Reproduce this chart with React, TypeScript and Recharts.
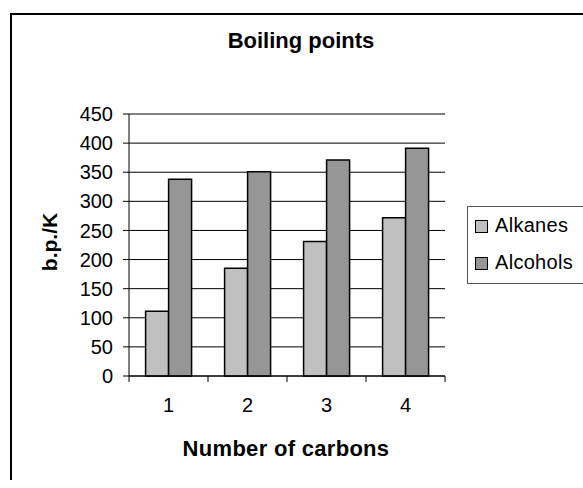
import React from 'react';
import { BarChart, Bar, XAxis, YAxis, CartesianGrid, Legend, ReferenceLine } from 'recharts';

const carbons = ['1', '2', '3', '4'];
const alkanes = [111, 185, 231, 272];
const alcohols = [338, 351, 371, 391];
const seriesNames = ['Alkanes', 'Alcohols'];
const yTicks = [0, 50, 100, 150, 200, 250, 300, 350, 400, 450];

const data = carbons.map((c, i) => ({ carbons: c, Alkanes: alkanes[i], Alcohols: alcohols[i] }));

const FONT = '"Liberation Sans", Arial, sans-serif';
const X_TICK_SIZE = 6;
const X_TICK_MARGIN = 16;

// category label in the middle, tick marks on the category edges (Excel style)
const CarbonTick = (props: any) => {
  const { x, y, payload, width, visibleTicksCount, index } = props;
  const step = width / visibleTicksCount;
  const axisY = y - X_TICK_SIZE - X_TICK_MARGIN;
  const left = payload.coordinate - step / 2;
  return (
    <g>
      <line x1={left} x2={left} y1={axisY} y2={axisY + X_TICK_SIZE} stroke="#000" />
      {index === visibleTicksCount - 1 && (
        <line x1={left + step} x2={left + step} y1={axisY} y2={axisY + X_TICK_SIZE} stroke="#000" />
      )}
      <text x={x} y={y} dy="0.71em" textAnchor="middle" fontSize={20} fontFamily={FONT} fill="#000">
        {payload.value}
      </text>
    </g>
  );
};

const LegendBox = (props: any) => {
  const items = [...(props.payload || [])].sort(
    (a: any, b: any) => seriesNames.indexOf(a.value) - seriesNames.indexOf(b.value)
  );
  return (
    <div
      style={{
        position: 'relative',
        width: 116,
        height: 78,
        boxSizing: 'border-box',
        border: '1px solid #555',
        borderRight: 'none',
        background: '#fff',
        fontFamily: FONT,
        fontSize: 20,
        lineHeight: '20px',
      }}
    >
      {items.map((p: any, i: number) => (
        <div key={p.value} style={{ position: 'absolute', left: 7, top: 8 + i * 37, whiteSpace: 'nowrap' }}>
          <span
            style={{
              display: 'inline-block',
              width: 13,
              height: 13,
              boxSizing: 'border-box',
              border: '1.5px solid #000',
              background: p.color,
              marginRight: 7,
              verticalAlign: '-1px',
            }}
          />
          <span style={{ letterSpacing: 0.3 }}>{p.value}</span>
        </div>
      ))}
    </div>
  );
};

export default function App() {
  return (
    <div
      style={{
        position: 'absolute',
        left: 10,
        top: 13,
        width: 573,
        height: 467,
        boxSizing: 'border-box',
        borderLeft: '2px solid #000',
        borderTop: '2px solid #000',
        background: '#fff',
        fontFamily: FONT,
      }}
    >
      <div
        style={{
          position: 'absolute', left: 0, top: 15, width: 578, textAlign: 'center',
          fontSize: 22, fontWeight: 'bold', lineHeight: '22px',
        }}
      >
        Boiling points
      </div>
      <div
        style={{
          position: 'absolute', left: 0, top: 423, width: 548, textAlign: 'center',
          fontSize: 22, fontWeight: 'bold', lineHeight: '22px', letterSpacing: 0.3,
        }}
      >
        Number of carbons
      </div>
      <div
        style={{
          position: 'absolute', left: 38, top: 227, transform: 'translate(-50%, -50%) rotate(-90deg)',
          fontSize: 21, fontWeight: 'bold', lineHeight: '22px', whiteSpace: 'nowrap',
        }}
      >
        b.p./K
      </div>
      <BarChart
        width={571}
        height={465}
        data={data}
        margin={{ top: 99, right: 138, bottom: 74, left: 57 }}
        barCategoryGap="21%"
        barGap={0}
      >
        <CartesianGrid vertical={false} stroke="#000" />
        <XAxis
          dataKey="carbons"
          height={30}
          axisLine={{ stroke: '#000' }}
          tickLine={false}
          tickSize={X_TICK_SIZE}
          tickMargin={X_TICK_MARGIN}
          tick={<CarbonTick />}
          interval={0}
        />
        <YAxis
          width={60}
          domain={[0, 450]}
          ticks={yTicks}
          interval={0}
          axisLine={{ stroke: '#000' }}
          tickLine={{ stroke: '#000' }}
          tickSize={6}
          tickMargin={10}
          tick={{ fontSize: 20, fill: '#000', fontFamily: FONT }}
        />
        <YAxis
          yAxisId="frame"
          orientation="right"
          width={0}
          domain={[0, 450]}
          axisLine={{ stroke: '#808080' }}
          tick={false}
          tickLine={false}
        />
        <ReferenceLine y={450} stroke="#808080" />
        <Legend
          layout="vertical"
          align="center"
          verticalAlign="middle"
          content={<LegendBox />}
          wrapperStyle={{ left: 455, top: 191, width: 116, height: 78 }}
        />
        <Bar dataKey="Alkanes" fill="#C0C0C0" stroke="#000" strokeWidth={1.5} isAnimationActive={false} />
        <Bar dataKey="Alcohols" fill="#969696" stroke="#000" strokeWidth={1.5} isAnimationActive={false} />
      </BarChart>
    </div>
  );
}
